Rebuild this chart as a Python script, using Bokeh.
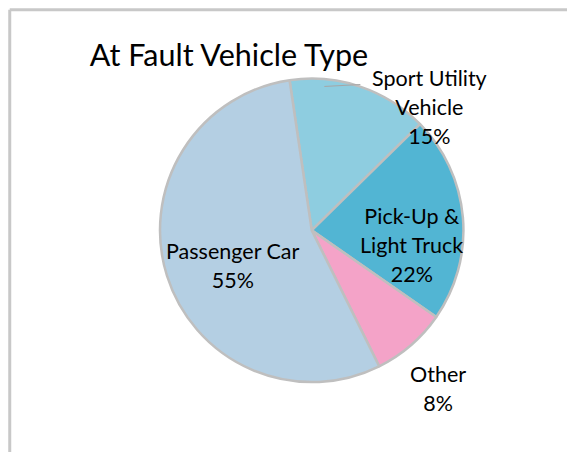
import math
from bokeh.plotting import figure
from bokeh.models import Range1d, ColumnDataSource
from bokeh.core.properties import value
from bokeh.embed import file_html
from bokeh.resources import INLINE

# ---- data ----
title = "At Fault Vehicle Type"
categories = ["Sport Utility Vehicle", "Pick-Up & Light Truck", "Other", "Passenger Car"]
label_lines = [["Sport Utility", "Vehicle"], ["Pick-Up &", "Light Truck"], ["Other"], ["Passenger Car"]]
shares = [15, 22, 8, 55]
colors = ["#8ECDE0", "#52B5D3", "#F4A3C8", "#B4CFE3"]

# ---- layout: data space = reference pixel space (583 x 468), drawn into 567 x 452 ----
RW, RH = 583, 468
W, H = 567, 452
def px(x): return x
def py(y): return RH - y

cx, cy, r = px(320), py(238), 156
start_cw = -8.4  # degrees clockwise from 12 o'clock for first slice

p = figure(width=W, height=H, output_backend="svg", toolbar_location=None,
           x_range=Range1d(0, RW), y_range=Range1d(0, RH), min_border=0)
p.axis.visible = False
p.grid.visible = False
p.outline_line_color = None
p.background_fill_color = "white"
p.border_fill_color = "white"

total = sum(shares)
starts, ends = [], []
acc = start_cw
for v in shares:
    a0 = acc
    a1 = acc + 360.0 * v / total
    starts.append(math.radians(90 - a0))
    ends.append(math.radians(90 - a1))
    acc = a1

src = ColumnDataSource(dict(x=[cx]*len(shares), y=[cy]*len(shares),
                            s=starts, e=ends, c=colors))
p.wedge(x="x", y="y", radius=r, start_angle="s", end_angle="e", direction="clock",
        fill_color="c", line_color="#BFBFBF", line_width=2.5, source=src)

# frame (left & top edges visible in reference)
p.line([px(9.5), px(9.5)], [py(480), py(9.5)], line_color="#C8C8C8", line_width=3)
p.line([px(9.5), px(600)], [py(9.5), py(9.5)], line_color="#C8C8C8", line_width=3)

font = value("Lato")
p.text([px(236)], [py(55)], text=[title], text_font=font, text_font_size="30.5px",
       text_align="center", text_baseline="alphabetic", text_color="#000000")

# label anchors: (center x, first baseline y)
anchors = [(441, 80), (423, 223), (450, 387), (239, 259)]
lh = 30
for lines, v, (ax, ay) in zip(label_lines, shares, anchors):
    all_lines = lines + [f"{round(100.0 * v / total)}%"]
    for i, t in enumerate(all_lines):
        p.text([px(ax)], [py(ay + i * lh)], text=[t], text_font=font, text_font_size="21.5px",
               text_align="center", text_baseline="alphabetic", text_color="#000000")

# leader line for Sport Utility Vehicle
p.line([px(333), px(370)], [py(89), py(87)], line_color="#A6A6A6", line_width=1)

open("out.html", "w").write(file_html(p, INLINE))
